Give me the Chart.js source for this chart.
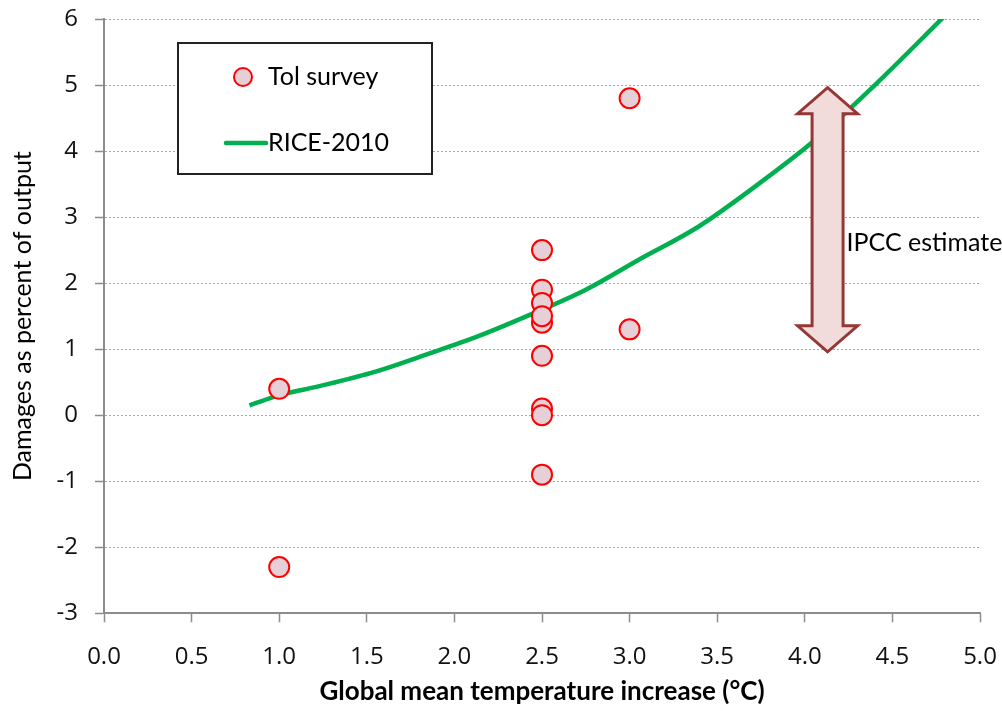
<!DOCTYPE html>
<html>
<head>
<meta charset="utf-8">
<script src="https://cdn.jsdelivr.net/npm/chart.js@4.4.1/dist/chart.umd.min.js"></script>
<style>
  html, body { margin: 0; padding: 0; background: #fff; }
  #wrap { width: 1002px; height: 712px; }
</style>
</head>
<body>
<div id="wrap"><canvas id="damageChart" width="1002" height="712"></canvas></div>
<script>
// Tol survey estimates (temperature, damage %)
const tolTemp   = [1.0, 1.0, 2.5, 2.5, 2.5, 2.5, 2.5, 2.5, 2.5, 2.5, 2.5, 3.0, 3.0];
const tolDamage = [0.4, -2.3, 2.5, 1.9, 1.7, 1.4, 1.5, 0.9, 0.1, 0.0, -0.9, 4.8, 1.3];

// RICE-2010 damage curve
const riceTemp   = [0.83, 1.0, 1.23, 1.55, 1.83, 2.14, 2.44, 2.75, 3.05, 3.39, 3.71, 4.06, 4.40, 4.80];
const riceDamage = [0.15, 0.30, 0.44, 0.66, 0.91, 1.20, 1.53, 1.90, 2.35, 2.85, 3.45, 4.17, 5.00, 6.05];

// IPCC estimate range (drawn as a double arrow)
const ipccTemp = 4.13;
const ipccRange = [0.96, 4.96];

// Axis ticks
const xTickLabels = ['0.0', '0.5', '1.0', '1.5', '2.0', '2.5', '3.0', '3.5', '4.0', '4.5', '5.0'];
const yTickValues = [-3, -2, -1, 0, 1, 2, 3, 4, 5, 6];

const FONT = 'Lato, "Open Sans", "Noto Sans", sans-serif';
const TICK_FONT = '"Open Sans", "Noto Sans", sans-serif';
const AXIS_GRAY = '#8c8c8c';

// Double arrow + label for the IPCC range
const ipccArrow = {
    id: 'ipccArrow',
    afterDatasetsDraw(chart) {
        const { ctx, scales: { x, y } } = chart;
        const cx = x.getPixelForValue(ipccTemp);
        const yTop = y.getPixelForValue(ipccRange[1]);
        const yBot = y.getPixelForValue(ipccRange[0]);
        const headW = 30, shaftW = 15.5, headH = 26;

        ctx.save();
        ctx.beginPath();
        ctx.moveTo(cx, yTop);
        ctx.lineTo(cx + headW, yTop + headH);
        ctx.lineTo(cx + shaftW, yTop + headH);
        ctx.lineTo(cx + shaftW, yBot - headH);
        ctx.lineTo(cx + headW, yBot - headH);
        ctx.lineTo(cx, yBot);
        ctx.lineTo(cx - headW, yBot - headH);
        ctx.lineTo(cx - shaftW, yBot - headH);
        ctx.lineTo(cx - shaftW, yTop + headH);
        ctx.lineTo(cx - headW, yTop + headH);
        ctx.closePath();
        ctx.fillStyle = '#f2dcdb';
        ctx.fill();
        ctx.lineWidth = 3;
        ctx.lineJoin = 'miter';
        ctx.strokeStyle = '#953735';
        ctx.stroke();

        // label sits a little below the middle of the arrow
        ctx.fillStyle = '#000';
        ctx.font = '25px ' + FONT;
        ctx.textAlign = 'left';
        ctx.textBaseline = 'middle';
        ctx.fillText('IPCC estimate', cx + 19, (yTop + yBot) / 2 + 23);
        ctx.restore();
    }
};

// Boxed legend inside the plot area
const boxLegend = {
    id: 'boxLegend',
    afterDraw(chart) {
        const { ctx } = chart;
        const pts = chart.data.datasets[0];
        const line = chart.data.datasets[1];
        ctx.save();
        ctx.fillStyle = '#fff';
        ctx.fillRect(178, 43, 254, 131);
        ctx.lineWidth = 2;
        ctx.strokeStyle = '#222';
        ctx.strokeRect(178, 43, 254, 131);

        ctx.beginPath();
        ctx.arc(243, 77, 9, 0, Math.PI * 2);
        ctx.fillStyle = pts.backgroundColor;
        ctx.fill();
        ctx.lineWidth = pts.borderWidth;
        ctx.strokeStyle = pts.borderColor;
        ctx.stroke();

        ctx.beginPath();
        ctx.moveTo(226, 143);
        ctx.lineTo(266, 143);
        ctx.lineWidth = line.borderWidth;
        ctx.strokeStyle = line.borderColor;
        ctx.lineCap = 'round';
        ctx.stroke();

        ctx.fillStyle = '#000';
        ctx.font = '25px ' + FONT;
        ctx.textAlign = 'left';
        ctx.textBaseline = 'middle';
        ctx.fillText(pts.label, 268, 77);
        ctx.fillText(line.label, 268, 143);
        ctx.restore();
    }
};

function initializeChart() {
    const ctx = document.getElementById('damageChart').getContext('2d');
    new Chart(ctx, {
        type: 'scatter',
        data: {
            datasets: [{
                label: 'Tol survey',
                data: tolTemp.map((t, i) => ({ x: t, y: tolDamage[i] })),
                backgroundColor: '#e6cfd6',
                borderColor: '#ff0000',
                borderWidth: 2,
                pointRadius: 10,
                pointHoverRadius: 10,
                order: 0
            }, {
                label: 'RICE-2010',
                type: 'line',
                data: riceTemp.map((t, i) => ({ x: t, y: riceDamage[i] })),
                borderColor: '#00b050',
                borderWidth: 4.5,
                pointRadius: 0,
                cubicInterpolationMode: 'monotone',
                fill: false,
                order: 1
            }]
        },
        options: {
            responsive: false,
            animation: false,
            layout: { padding: { top: 19, right: 22, left: 0, bottom: 0 } },
            plugins: {
                legend: { display: false },
                tooltip: { enabled: false }
            },
            scales: {
                x: {
                    type: 'linear',
                    min: 0,
                    max: 5,
                    afterFit(scale) {
                        scale.height = 98.7;
                        scale.paddingLeft = 0;
                        scale.paddingRight = 0;
                    },
                    ticks: {
                        stepSize: 0.5,
                        padding: 20,
                        color: '#111',
                        font: { family: TICK_FONT, size: 24 },
                        maxRotation: 0,
                        callback: (v) => xTickLabels[Math.round(v * 2)]
                    },
                    grid: {
                        drawOnChartArea: false,
                        tickLength: 9,
                        tickColor: AXIS_GRAY,
                        tickWidth: 1.5
                    },
                    border: { color: AXIS_GRAY, width: 2 },
                    title: {
                        display: true,
                        text: 'Global mean temperature increase (°C)',
                        color: '#000',
                        font: { family: FONT, size: 26, weight: 'bold' },
                        padding: { bottom: 5 }
                    }
                },
                y: {
                    min: yTickValues[0],
                    max: yTickValues[yTickValues.length - 1],
                    afterFit(scale) {
                        scale.width = 104;
                        scale.paddingTop = 0;
                        scale.paddingBottom = 0;
                    },
                    afterBuildTicks(scale) { scale.ticks = yTickValues.map(v => ({ value: v })); },
                    ticks: {
                        padding: 17,
                        color: '#111',
                        font: { family: TICK_FONT, size: 24 }
                    },
                    grid: {
                        color: '#a6a6a6',
                        lineWidth: 1,
                        tickLength: 9,
                        tickColor: AXIS_GRAY,
                        tickWidth: 1.5
                    },
                    border: { color: AXIS_GRAY, width: 2, dash: [2, 2] },
                    title: {
                        display: true,
                        text: 'Damages as percent of output',
                        color: '#000',
                        font: { family: FONT, size: 25 },
                        padding: { top: 8 }
                    }
                }
            }
        },
        plugins: [ipccArrow, boxLegend]
    });
}

initializeChart();
</script>
</body>
</html>
